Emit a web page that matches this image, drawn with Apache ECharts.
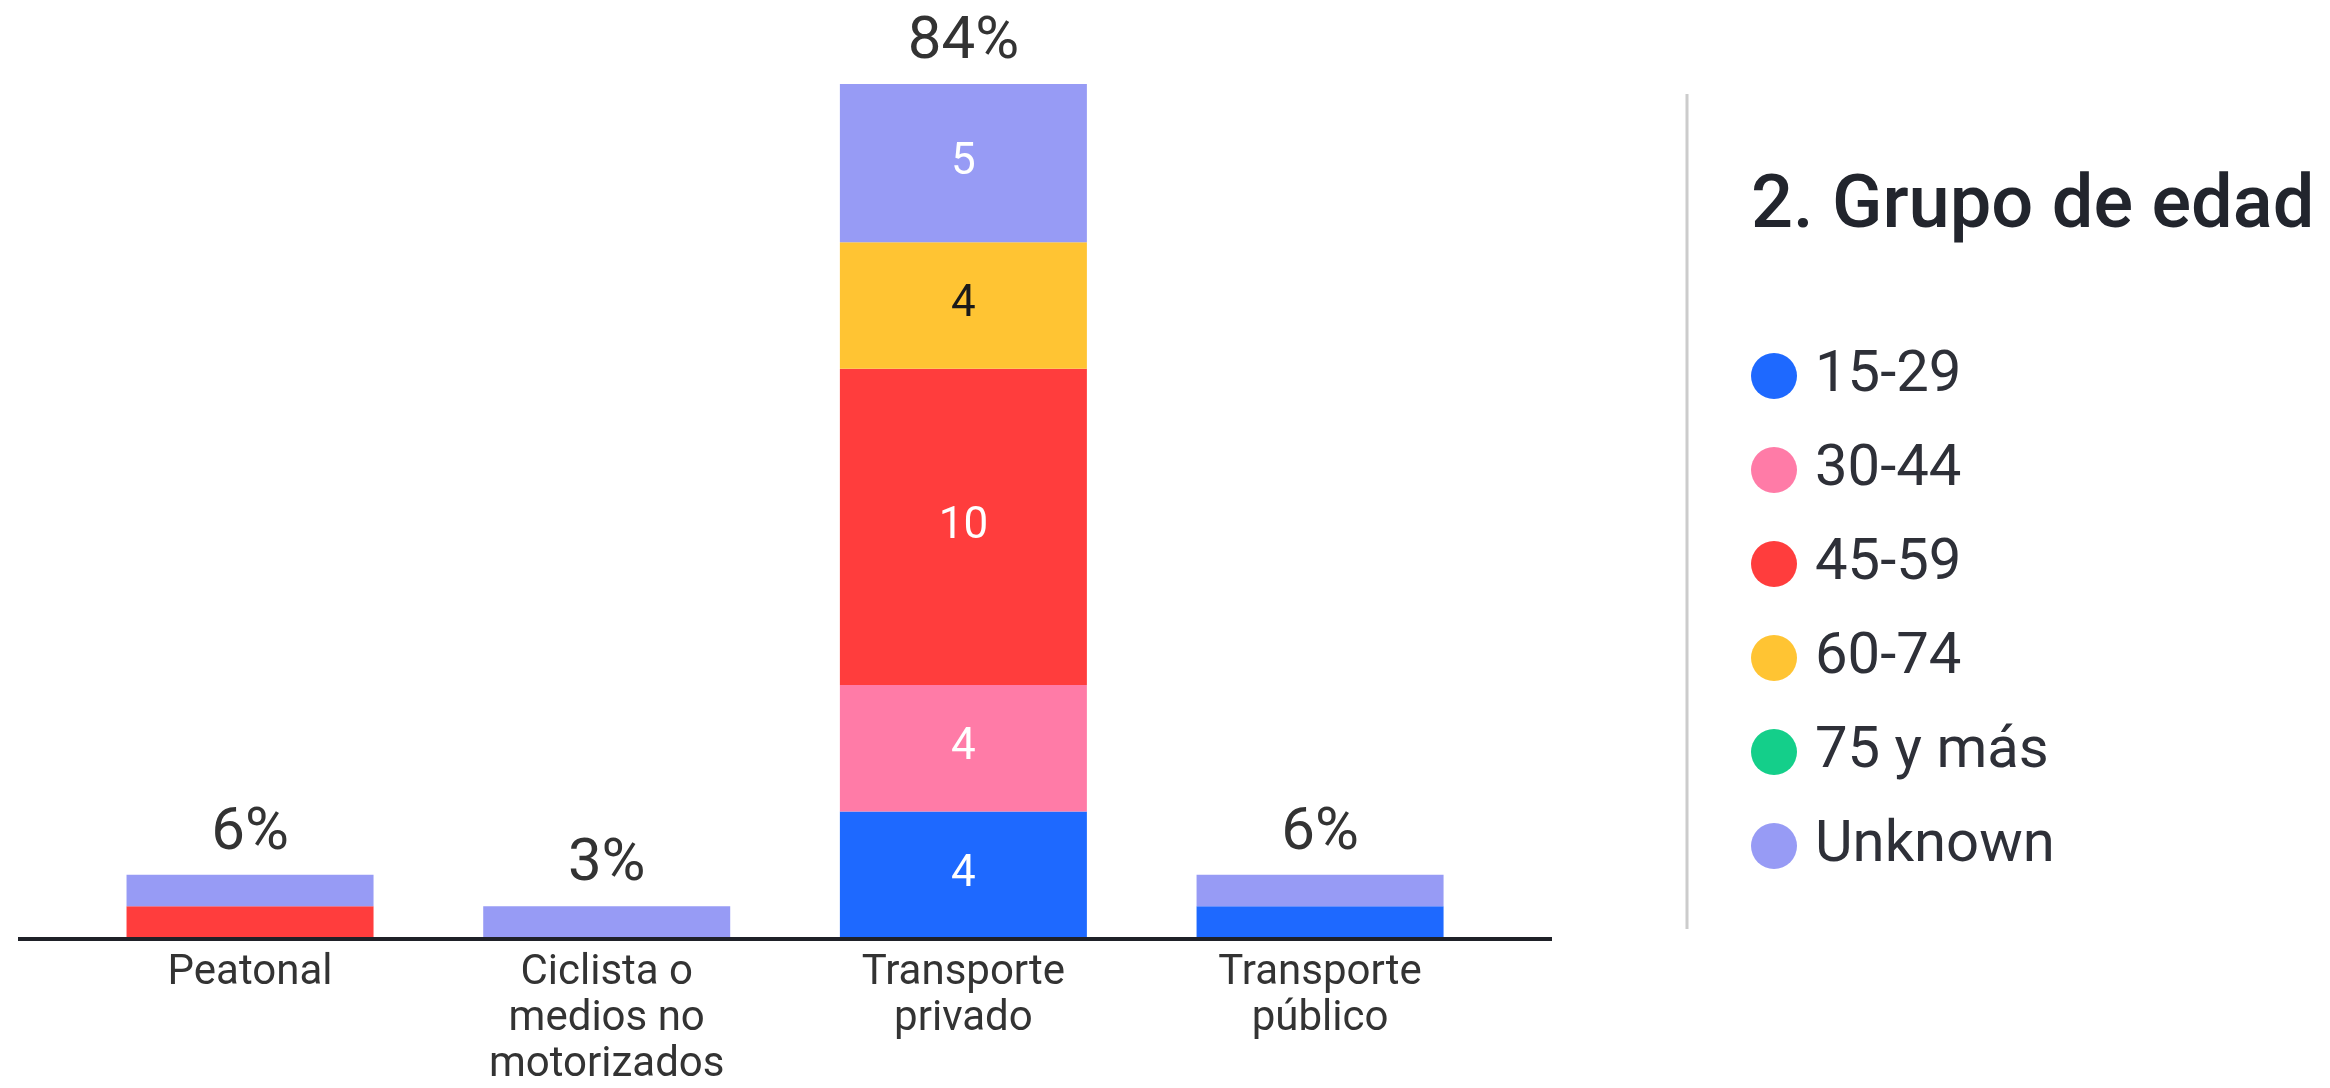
<!DOCTYPE html>
<html>
<head>
<meta charset="utf-8">
<script src="https://cdn.jsdelivr.net/npm/echarts@6/dist/echarts.min.js"></script>
<style>
html,body{margin:0;padding:0;background:#fff;}
#c{width:2330px;height:1088px;}
</style>
</head>
<body>
<div id="c"></div>
<script>
const categories = ['Peatonal', 'Ciclista o\nmedios no\nmotorizados', 'Transporte\nprivado', 'Transporte\npúblico'];
const ageGroups = ['15-29', '30-44', '45-59', '60-74', '75 y más', 'Unknown'];
const age15_29 = [0, 0, 4, 1];
const age30_44 = [0, 0, 4, 0];
const age45_59 = [1, 0, 10, 0];
const age60_74 = [0, 0, 4, 0];
const age75mas = [0, 0, 0, 0];
const ageUnknown = [1, 1, 5, 1];
const colors = ['#1E69FF', '#FF7BA7', '#FF3D3D', '#FFC433', '#14CF8A', '#979BF5'];
const labelColors = ['#ffffff', '#ffffff', '#ffffff', '#1a1a1a', '#ffffff', '#ffffff'];

const seriesValues = [age15_29, age30_44, age45_59, age60_74, age75mas, ageUnknown];
const totals = categories.map((_, i) => seriesValues.reduce((s, arr) => s + arr[i], 0));
const grand = totals.reduce((a, b) => a + b, 0);

const chart = echarts.init(document.getElementById('c'));

const series = ageGroups.map((name, k) => ({
  name: name,
  type: 'bar',
  stack: 'total',
  barWidth: 247,
  data: seriesValues[k],
  itemStyle: { color: colors[k] },
  label: {
    show: true,
    position: 'inside',
    fontFamily: 'Roboto',
    fontSize: 44,
    color: labelColors[k],
    formatter: p => (p.value >= 2 ? String(p.value) : '')
  }
}));

series.push({
  name: 'totalPct',
  type: 'bar',
  barWidth: 247,
  barGap: '-100%',
  data: totals,
  itemStyle: { color: 'rgba(0,0,0,0)' },
  silent: true,
  z: 1,
  label: {
    show: true,
    position: 'top',
    distance: 11,
    fontFamily: 'Roboto',
    fontSize: 60,
    color: '#333333',
    formatter: p => Math.round(p.value / grand * 100) + '%'
  }
});

chart.setOption({
  animation: false,
  backgroundColor: '#ffffff',
  title: {
    text: '2. Grupo de edad',
    left: 1746,
    top: 166,
    textStyle: { fontFamily: 'Roboto', fontSize: 74, fontWeight: 500, color: '#22252d' }
  },
  legend: {
    data: ageGroups,
    orient: 'vertical',
    left: 1746,
    top: 342,
    icon: 'circle',
    itemWidth: 46,
    itemHeight: 46,
    itemGap: 36,
    textStyle: {
      fontFamily: 'Roboto',
      fontSize: 58,
      lineHeight: 46,
      color: '#2e3038',
      padding: [0, 0, 0, 13]
    }
  },
  grid: { left: 71.7, right: 831.6, top: 84, bottom: 149, containLabel: false },
  xAxis: {
    type: 'category',
    data: categories,
    axisLine: { show: false },
    axisTick: { show: false },
    axisLabel: {
      margin: 12,
      fontFamily: 'Roboto',
      fontSize: 42,
      lineHeight: 46,
      color: '#333333',
      interval: 0
    }
  },
  yAxis: {
    type: 'value',
    min: 0,
    max: 27,
    show: false,
    splitLine: { show: false }
  },
  graphic: [
    { type: 'line', shape: { x1: 18, y1: 939, x2: 1552, y2: 939 }, style: { stroke: '#1f2128', lineWidth: 4 }, z: 100 },
    { type: 'line', shape: { x1: 1687, y1: 94, x2: 1687, y2: 929 }, style: { stroke: '#cccccc', lineWidth: 3 } }
  ],
  series: series
});
</script>
</body>
</html>
